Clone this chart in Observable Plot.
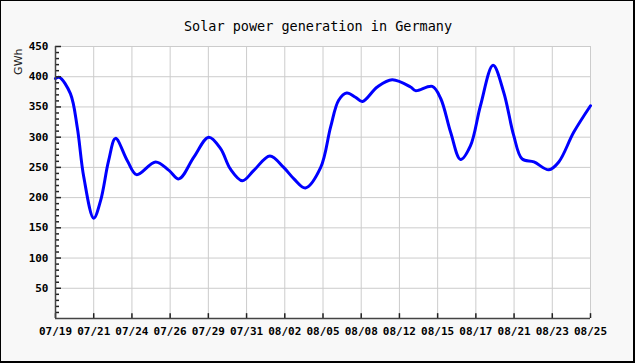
<!DOCTYPE html>
<html>
<head>
<meta charset="utf-8">
<script src="https://cdn.jsdelivr.net/npm/d3@7"></script>
<script src="https://cdn.jsdelivr.net/npm/@observablehq/plot@0.6"></script>
<style>
  html, body { margin: 0; padding: 0; background: #f8f8f8; }
  #wrap { position: relative; width: 635px; height: 363px; overflow: hidden; background: #f8f8f8; }
  #wrap svg { position: absolute; left: 0; top: 0; }
  #border { position: absolute; left: 0; top: 0; width: 635px; height: 363px; box-sizing: border-box;
            border-left: 1px solid #000; border-top: 1px solid #000; border-right: 2px solid #000; border-bottom: 2px solid #000; pointer-events: none; }
</style>
</head>
<body>
<div id="wrap"><div id="border"></div></div>
<script>
const title = "Solar power generation in Germany";
const yLabel = "GWh";
const tickLabels = ["07/19","07/21","07/24","07/26","07/29","07/31","08/02","08/05","08/08","08/12","08/15","08/17","08/21","08/23","08/25"];
const yTicks = [50,100,150,200,250,300,350,400,450];

// position along the sample index (in label-step units) and value in GWh
const pos = [0, 0.1, 0.39, 0.57, 0.74, 1.0, 1.18, 1.39, 1.57, 1.88, 2.12, 2.62, 2.97, 3.23, 3.62, 4.01, 4.32, 4.58, 4.89, 5.19, 5.61, 5.97, 6.24, 6.54, 6.94, 7.2, 7.41, 7.62, 7.85, 8.03, 8.42, 8.81, 9.29, 9.42, 9.86, 10.08, 10.34, 10.6, 10.86, 11.12, 11.45, 11.73, 11.99, 12.21, 12.52, 12.91, 13.17, 13.56, 14];
const gwh = [397, 399, 372, 316, 234, 166, 195, 261, 298, 261, 238, 259, 245, 231, 267, 300, 281, 247, 228, 245, 269, 250, 231, 216, 250, 317, 361, 373, 366, 359, 383, 395, 383, 377, 384, 364, 308, 263, 286, 352, 419, 374, 303, 264, 259, 246, 259, 308, 352];

const data = pos.map((p, i) => ({t: p, v: gwh[i]}));
const tickIdx = tickLabels.map((_, i) => i);
const minor = d3.range(10, 451, 10).filter(d => d % 50 !== 0);

const mono = "DejaVu Sans Mono";
const axisColor = "#222";
const plotW = 635 - 55 - 45;

const chart = Plot.plot({
  width: 635,
  height: 363,
  marginLeft: 55,
  marginRight: 45,
  marginTop: 46,
  marginBottom: 45,
  style: {background: "transparent", overflow: "visible"},
  x: {domain: [0, 14], ticks: tickIdx, tickFormat: i => tickLabels[i]},
  y: {domain: [0, 450]},
  marks: [
    Plot.frame({fill: "white", stroke: null}),
    Plot.gridX(tickIdx, {stroke: "#cccccc", strokeOpacity: 1}),
    Plot.gridY(yTicks, {stroke: "#cccccc", strokeOpacity: 1}),
    Plot.line(data, {x: "t", y: "v", curve: "catmull-rom", stroke: "#0000ff", strokeWidth: 3}),
    // inward axis ticks: minor every 10, major every 50 (tickY spans the frame, inset to a few pixels)
    Plot.tickY(minor, {y: d => d, insetRight: plotW - 4, stroke: axisColor, strokeWidth: 1.5, strokeOpacity: 1}),
    Plot.tickY(yTicks, {y: d => d, insetRight: plotW - 6, stroke: axisColor, strokeWidth: 1.5, strokeOpacity: 1}),
    Plot.ruleX(tickIdx, {x: d => d, y1: 0, y2: 8, stroke: axisColor, strokeWidth: 1.5, strokeOpacity: 1}),
    Plot.ruleX([0], {stroke: "#444", strokeWidth: 1.5}),
    Plot.ruleY([0], {stroke: "#444", strokeWidth: 1.5}),
    Plot.axisY(yTicks, {anchor: "left", tickSize: 0, tickPadding: 7, fontFamily: mono, fontWeight: "bold", fontSize: 11, fill: "#000", label: null}),
    Plot.axisX(tickIdx, {anchor: "bottom", tickSize: 0, tickPadding: 9, fontFamily: mono, fontWeight: "bold", fontSize: 11, fill: "#000", tickFormat: i => tickLabels[i], label: null}),
    Plot.text([title], {frameAnchor: "top", dx: -5, dy: -25, fontFamily: mono, fontSize: 13.5, fill: "#000", textAnchor: "middle"}),
    Plot.text([yLabel], {frameAnchor: "top-left", dx: -41.5, dy: 2, rotate: -90, textAnchor: "end", fontFamily: "DejaVu Sans", fontSize: 11, fill: "#222"})
  ]
});
document.getElementById("wrap").insertBefore(chart, document.getElementById("border"));
</script>
</body>
</html>
